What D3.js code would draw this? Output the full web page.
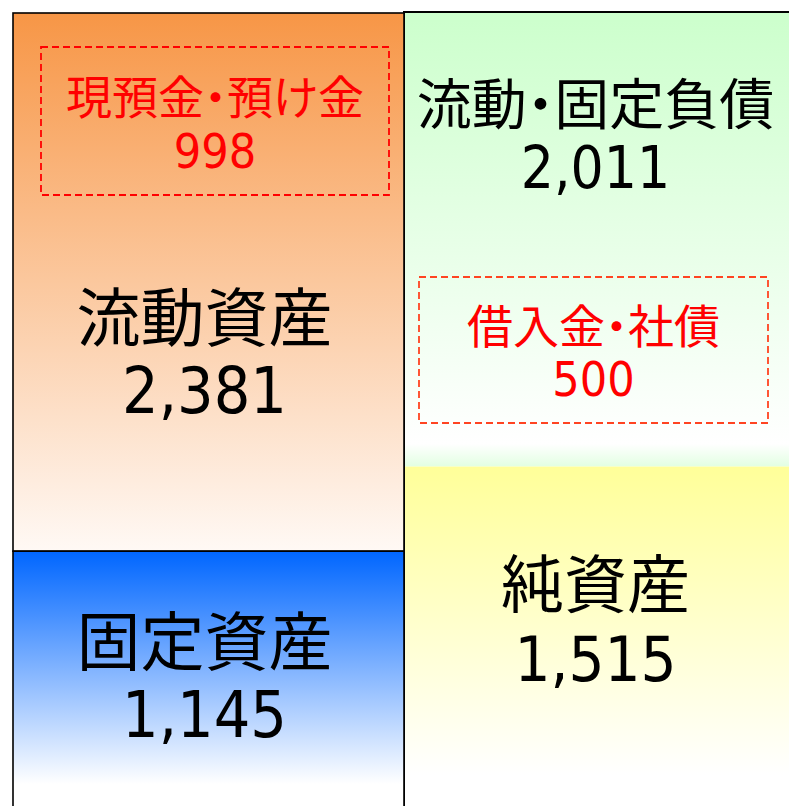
<!DOCTYPE html>
<html lang="ja">
<head>
<meta charset="UTF-8">
<title>貸借対照表</title>
<script src="https://d3js.org/d3.v7.min.js"></script>
<style>
  html, body { margin: 0; padding: 0; background: #fff; }
  svg { display: block; }
  .label { font-family: "Noto Sans CJK JP", sans-serif; text-anchor: middle; dominant-baseline: central; }
  .num { font-family: "DejaVu Sans Condensed", "DejaVu Sans", sans-serif; font-stretch: condensed; text-anchor: middle; dominant-baseline: central; }
</style>
</head>
<body>
<div id="chart"></div>
<script>
// data
const sides = ["資産", "負債・純資産"];
const assetItems = ["流動資産", "固定資産"];
const assetValues = [2381, 1145];
const liabItems = ["流動・固定負債", "純資産"];
const liabValues = [2011, 1515];
const detailItems = ["現預金・預け金", "借入金・社債"];
const detailValues = [998, 500];

const width = 789, height = 806;
const total = d3.sum(assetValues);

const svg = d3.select("#chart").append("svg")
    .attr("width", width)
    .attr("height", height);

const x = d3.scaleBand().domain(sides).range([13, 795]);
const y = d3.scaleLinear().domain([0, total]).range([13, 810]);

// gradients
const defs = svg.append("defs");
function grad(id, stops) {
    const g = defs.append("linearGradient").attr("id", id)
        .attr("x1", 0).attr("y1", 0).attr("x2", 0).attr("y2", 1);
    stops.forEach(s => g.append("stop").attr("offset", s[0]).attr("stop-color", s[1]));
}
grad("gOrange", [[0, "#f79646"], [1, "#fff9f5"]]);
grad("gBlue", [[0, "#0066ff"], [0.9, "#ffffff"], [1, "#ffffff"]]);
grad("gGreen", [[0, "#ccffcc"], [0.95, "#ffffff"], [1, "#e2ffe2"]]);
grad("gYellow", [[0, "#ffff99"], [0.9, "#ffffff"], [1, "#ffffff"]]);

function stack(items, values, side, fills) {
    let acc = 0;
    return items.map((name, i) => {
        const d = { name, value: values[i], side, y0: acc, y1: acc + values[i], fill: fills[i] };
        acc += values[i];
        return d;
    });
}
const assets = stack(assetItems, assetValues, sides[0], ["url(#gOrange)", "url(#gBlue)"]);
const liabs = stack(liabItems, liabValues, sides[1], ["url(#gGreen)", "url(#gYellow)"]);

// right column: fills then outline
svg.selectAll(".liab").data(liabs).enter().append("rect")
    .attr("class", "liab")
    .attr("x", d => x(d.side))
    .attr("y", d => y(d.y0) - 1)
    .attr("width", x.bandwidth())
    .attr("height", d => y(d.y1) - y(d.y0))
    .attr("fill", d => d.fill);
svg.append("rect")
    .attr("x", x(sides[1]))
    .attr("y", y(0) - 1)
    .attr("width", x.bandwidth())
    .attr("height", y(total) - y(0))
    .attr("fill", "none")
    .attr("stroke", "#000")
    .attr("stroke-width", 2);

// left column
svg.selectAll(".asset").data(assets).enter().append("rect")
    .attr("class", "asset")
    .attr("x", d => x(d.side))
    .attr("y", d => y(d.y0))
    .attr("width", x.bandwidth())
    .attr("height", d => y(d.y1) - y(d.y0))
    .attr("fill", d => d.fill)
    .attr("stroke", "#000")
    .attr("stroke-width", 1.6);

// text placement inside each block: [label y frac, number y frac, label size, number size]
const textPos = {
    "流動資産": [0.558, 0.702, 64, 64],
    "固定資産": [0.332, 0.633, 64, 64],
    "流動・固定負債": [0.192, 0.342, 55, 58],
    "純資産": [0.328, 0.56, 63, 63]
};
const fmt = d3.format(",");
const blocks = assets.concat(liabs);
blocks.forEach(d => {
    const p = textPos[d.name];
    const top = y(d.y0), h = y(d.y1) - y(d.y0);
    const cx = x(d.side) + x.bandwidth() / 2 - 4;
    svg.append("text").attr("class", "label")
        .attr("x", cx).attr("y", top + h * p[0])
        .attr("font-size", p[2])
        .style("font-feature-settings", "'palt'")
        .attr("fill", "#000")
        .text(d.name);
    svg.append("text").attr("class", "num")
        .attr("x", cx).attr("y", top + h * p[1])
        .attr("font-size", p[3])
        .attr("fill", "#000")
        .text(fmt(d.value));
});

// dashed detail boxes
const detailBoxes = [
    { side: sides[0], dx0: 28, dx1: 15, top: 47, bottom: 195, stroke: "#ff0000" },
    { side: sides[1], dx0: 15, dx1: 27, top: 277, bottom: 423, stroke: "#ff4422" }
];
detailBoxes.forEach((b, i) => {
    const bx = x(b.side) + b.dx0;
    const bw = x.bandwidth() - b.dx0 - b.dx1;
    svg.append("rect")
        .attr("x", bx).attr("y", b.top)
        .attr("width", bw).attr("height", b.bottom - b.top)
        .attr("fill", "none")
        .attr("stroke", b.stroke)
        .attr("stroke-width", 1.8)
        .attr("stroke-dasharray", "7,4");
    const cx = bx + bw / 2;
    const h = b.bottom - b.top;
    svg.append("text").attr("class", "label")
        .attr("x", cx).attr("y", b.top + h * 0.315)
        .attr("font-size", 46)
        .style("font-feature-settings", "'palt'")
        .attr("fill", "#ff0000")
        .text(detailItems[i]);
    svg.append("text").attr("class", "num")
        .attr("x", cx).attr("y", b.top + h * 0.70)
        .attr("font-size", 48)
        .attr("fill", "#ff0000")
        .text(fmt(detailValues[i]));
});
</script>
</body>
</html>
